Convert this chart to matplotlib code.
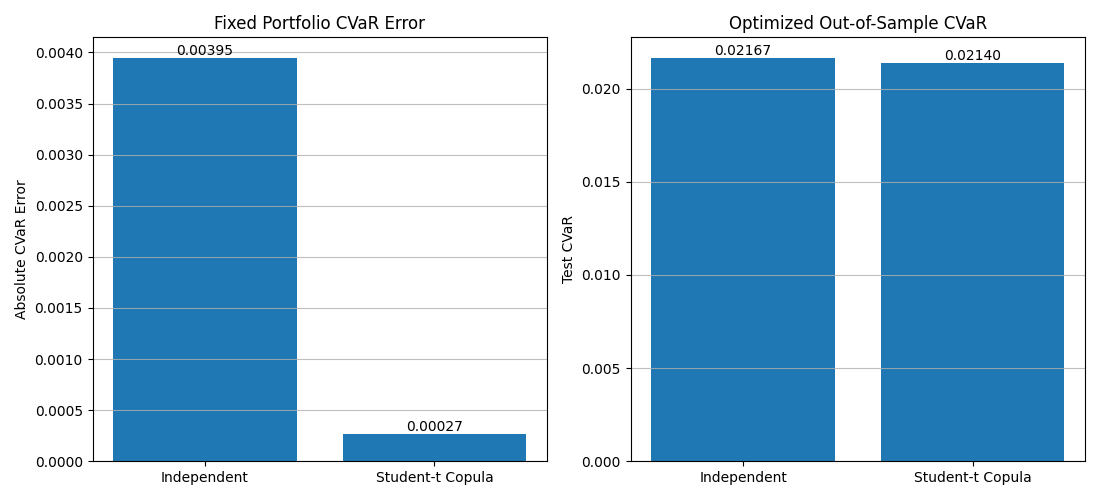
import numpy as np
import matplotlib
matplotlib.use('Agg')
import matplotlib.pyplot as plt

methods = ['Independent', 'Student-t Copula']
fixed_err = [0.00395, 0.00027]
opt_cvar = [0.02167, 0.02140]

fig, axes = plt.subplots(1, 2, figsize=(11, 5), dpi=100)

ax = axes[0]
bars = ax.bar(methods, fixed_err)
ax.bar_label(bars, fmt='%.5f')
ax.set_title('Fixed Portfolio CVaR Error')
ax.set_ylabel('Absolute CVaR Error')
ax.grid(axis='y', alpha=0.8)

ax = axes[1]
bars = ax.bar(methods, opt_cvar)
ax.bar_label(bars, fmt='%.5f')
ax.set_title('Optimized Out-of-Sample CVaR')
ax.set_ylabel('Test CVaR')
ax.grid(axis='y', alpha=0.8)

plt.tight_layout()
plt.savefig('out.png')
